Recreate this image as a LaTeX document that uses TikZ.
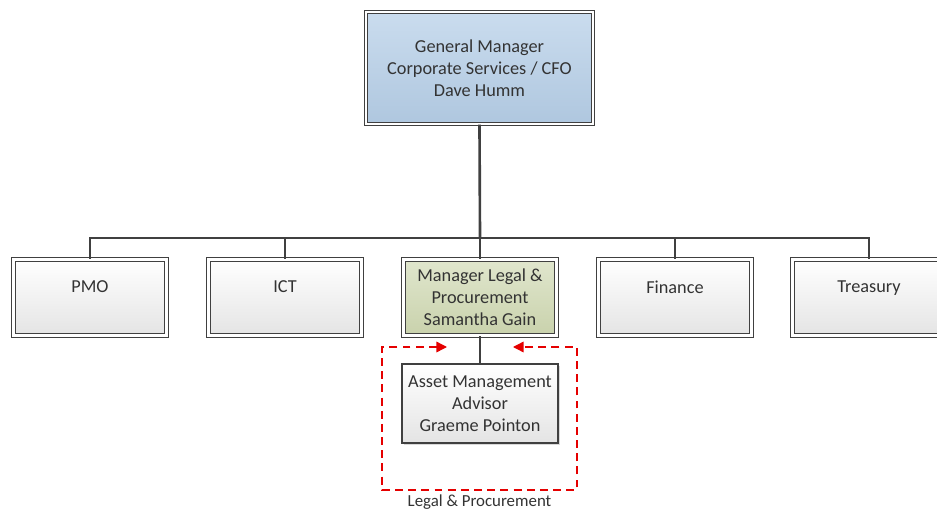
\documentclass[tikz,border=0pt]{standalone}
\usepackage{fontspec}
\setmainfont{Carlito}
\usepackage{tikz}
\usetikzlibrary{arrows.meta,calc,shadows}

\definecolor{edge}{HTML}{404040}
\definecolor{ink}{HTML}{333333}
\definecolor{gmtop}{HTML}{CADCEE}
\definecolor{gmbot}{HTML}{AFC7DF}
\definecolor{lptop}{HTML}{E0E6CD}
\definecolor{lpbot}{HTML}{C9D2AC}
\definecolor{grtop}{HTML}{FFFFFF}
\definecolor{grbot}{HTML}{E4E4E4}

\tikzset{
  box/.style={draw=edge,line width=0.7pt,align=center,text=ink,
              font=\fontsize{10.4}{12.6}\selectfont,inner sep=1pt,
              drop shadow={shadow xshift=1.4pt,shadow yshift=-1.4pt,fill=black!25,opacity=0.6}},
  framed/.style={box,double=white,double distance=1.4pt},
  unit/.style={framed,top color=grtop,bottom color=grbot,
               minimum width=3.06cm,minimum height=1.52cm},
  onerow/.style={text depth=12pt},
  link/.style={draw=edge,line width=1.5pt},
  scope/.style={draw=red!90!black,line width=0.8pt,dash pattern=on 4.5pt off 3pt,
                {Triangle[width=6pt,length=6pt]}-{Triangle[width=6pt,length=6pt]}}
}

\begin{document}
\begin{tikzpicture}[x=0.02cm,y=-0.02cm]
  \useasboundingbox (0,0) rectangle (937,510);

  \node[framed,top color=gmtop,bottom color=gmbot,
        minimum width=4.54cm,minimum height=2.24cm] (gm) at (479.5,68)
        {General Manager\\Corporate Services / CFO\\Dave Humm};

  \node[unit,onerow] (pmo) at (90,297.5) {PMO};
  \node[unit,onerow] (ict) at (285,297.5) {ICT};
  \node[unit,top color=lptop,bottom color=lpbot] (lp) at (480,297.5)
        {Manager Legal \&\\Procurement\\Samantha Gain};
  \node[unit,onerow] (fin) at (675,297.5) {Finance};
  \node[unit,onerow] (tre) at (869,297.5) {Treasury};

  \node[box,top color=grtop,bottom color=grbot,
        minimum width=3.12cm,minimum height=1.58cm] (ama) at (480,403.5)
        {Asset Management\\Advisor\\Graeme Pointon};

  % bus under the general manager
  \coordinate (bus) at (480,238);
  \draw[link] (gm.south) -- (bus);
  \draw[link] (pmo.north) |- (bus) -| (tre.north);
  \foreach \n in {ict,lp,fin}
    \draw[link] (\n.north) -- (\n.north |- bus);
  \draw[link] (lp.south) -- (ama.north);

  % legal & procurement team frame
  \coordinate (in-l) at (447,347);
  \coordinate (in-r) at (513,347);
  \coordinate (fr-nw) at (382,347);
  \coordinate (fr-se) at (577,490);
  \draw[scope] (in-l) -- (fr-nw) |- (fr-se) |- (in-r);
  \node[text=ink,font=\fontsize{9.6}{11}\selectfont,anchor=base,inner sep=0pt]
        (team) at ($(fr-nw)!0.5!(fr-se |- fr-nw)+(0,159)$) {Legal \& Procurement};
\end{tikzpicture}
\end{document}
